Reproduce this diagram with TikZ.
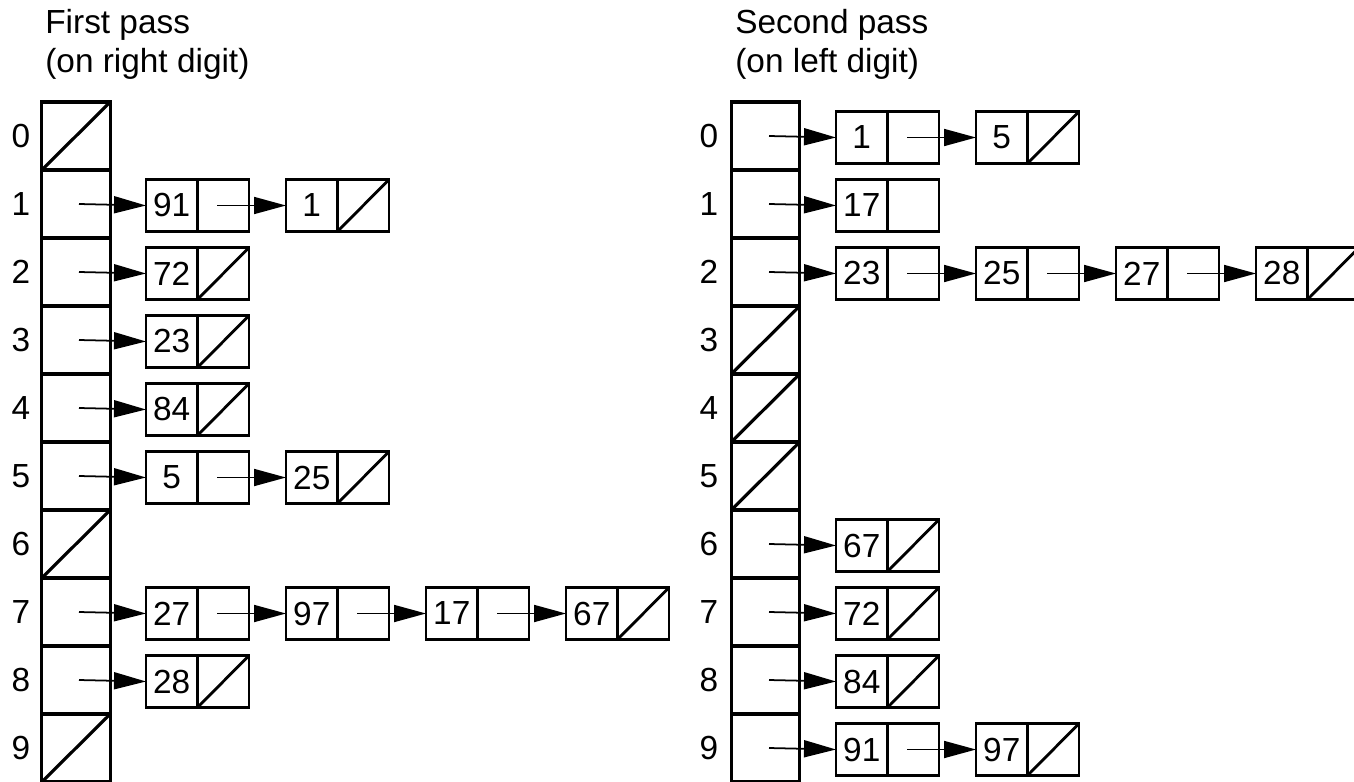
\documentclass[tikz,border=0pt]{standalone}
\usepackage{fontspec}
\setmainfont{Liberation Sans}
\usepackage{tikz}
\usetikzlibrary{arrows.meta,positioning}
\tikzset{
  bucket/.style={draw,line width=1.8pt,minimum width=1.37cm,minimum height=1.36cm,inner sep=0pt,outer sep=0pt},
  val/.style={draw,line width=1.6pt,minimum width=1.03cm,minimum height=1.04cm,inner sep=0pt,outer sep=0pt},
  ptr/.style={val,right=0pt of #1},
  nil/.style={path picture={\draw[line width=1.6pt] (path picture bounding box.south west)--(path picture bounding box.north east);}},
  lab/.style={inner sep=0pt},
  link/.style={-{Triangle[length=0.64cm,width=0.34cm]},line width=1pt},
}

\begin{document}
\begin{tikzpicture}[x=0.02cm,y=-0.02cm,font=\fontsize{19}{22.2}\selectfont]
  \useasboundingbox (0,0) rectangle (1354,781);
  % headings
  \node[lab,anchor=north west,align=left] (h1) at (45,9) {First pass\\(on right digit)};
  \node[lab,anchor=north west,align=left] (h2) at (735,9) {Second pass\\(on left digit)};
  % bucket arrays
  \foreach \i in {0,...,9} {
    \node[bucket] (f\i) at (76,{136+68*\i}) {};
    \node[lab] (fl\i) at (21,{136+68*\i}) {\i};
    \node[bucket] (s\i) at (765.5,{136+68*\i}) {};
    \node[lab] (sl\i) at (709,{136+68*\i}) {\i};
  }
  \foreach \i in {0,6,9} \draw[line width=1.8pt] (f\i.south west) -- (f\i.north east);
  \foreach \i in {3,4,5} \draw[line width=1.8pt] (s\i.south west) -- (s\i.north east);

  % first pass lists
  \node[val] (f1a) at (171.75,205.5) {91}; \node[ptr=f1a] (f1ap) {};
  \node[val] (f1b) at (311.75,205.5) {1}; \node[ptr=f1b,nil] (f1bp) {};
  \node[val] (f2a) at (171.75,273.5) {72}; \node[ptr=f2a,nil] (f2ap) {};
  \node[val] (f3a) at (171.75,341.5) {23}; \node[ptr=f3a,nil] (f3ap) {};
  \node[val] (f4a) at (171.75,409.5) {84}; \node[ptr=f4a,nil] (f4ap) {};
  \node[val] (f5a) at (171.75,477.5) {5}; \node[ptr=f5a] (f5ap) {};
  \node[val] (f5b) at (311.75,477.5) {25}; \node[ptr=f5b,nil] (f5bp) {};
  \node[val] (f7a) at (171.75,613.5) {27}; \node[ptr=f7a] (f7ap) {};
  \node[val] (f7b) at (311.75,613.5) {97}; \node[ptr=f7b] (f7bp) {};
  \node[val] (f7c) at (451.75,613.5) {17}; \node[ptr=f7c] (f7cp) {};
  \node[val] (f7d) at (591.75,613.5) {67}; \node[ptr=f7d,nil] (f7dp) {};
  \node[val] (f8a) at (171.75,681.5) {28}; \node[ptr=f8a,nil] (f8ap) {};

  \draw[link] ([xshift=0.06cm]f1.center) -- (f1a.west);
  \draw[link] ([xshift=-0.12cm]f1ap.center) -- (f1b.west);
  \draw[link] ([xshift=0.06cm]f2.center) -- (f2a.west);
  \draw[link] ([xshift=0.06cm]f3.center) -- (f3a.west);
  \draw[link] ([xshift=0.06cm]f4.center) -- (f4a.west);
  \draw[link] ([xshift=0.06cm]f5.center) -- (f5a.west);
  \draw[link] ([xshift=-0.12cm]f5ap.center) -- (f5b.west);
  \draw[link] ([xshift=0.06cm]f7.center) -- (f7a.west);
  \draw[link] ([xshift=-0.12cm]f7ap.center) -- (f7b.west);
  \draw[link] ([xshift=-0.12cm]f7bp.center) -- (f7c.west);
  \draw[link] ([xshift=-0.12cm]f7cp.center) -- (f7d.west);
  \draw[link] ([xshift=0.06cm]f8.center) -- (f8a.west);

  % second pass lists
  \node[val] (s0a) at (861.75,137.5) {1}; \node[ptr=s0a] (s0ap) {};
  \node[val] (s0b) at (1001.75,137.5) {5}; \node[ptr=s0b,nil] (s0bp) {};
  \node[val] (s1a) at (861.75,205.5) {17}; \node[ptr=s1a] (s1ap) {};
  \node[val] (s2a) at (861.75,273.5) {23}; \node[ptr=s2a] (s2ap) {};
  \node[val] (s2b) at (1001.75,273.5) {25}; \node[ptr=s2b] (s2bp) {};
  \node[val] (s2c) at (1141.75,273.5) {27}; \node[ptr=s2c] (s2cp) {};
  \node[val] (s2d) at (1281.75,273.5) {28}; \node[ptr=s2d,nil] (s2dp) {};
  \node[val] (s6a) at (861.75,545.5) {67}; \node[ptr=s6a,nil] (s6ap) {};
  \node[val] (s7a) at (861.75,613.5) {72}; \node[ptr=s7a,nil] (s7ap) {};
  \node[val] (s8a) at (861.75,681.5) {84}; \node[ptr=s8a,nil] (s8ap) {};
  \node[val] (s9a) at (861.75,749.5) {91}; \node[ptr=s9a] (s9ap) {};
  \node[val] (s9b) at (1001.75,749.5) {97}; \node[ptr=s9b,nil] (s9bp) {};

  \draw[link] ([xshift=0.07cm]s0.center) -- (s0a.west);
  \draw[link] ([xshift=-0.12cm]s0ap.center) -- (s0b.west);
  \draw[link] ([xshift=0.07cm]s1.center) -- (s1a.west);
  \draw[link] ([xshift=0.07cm]s2.center) -- (s2a.west);
  \draw[link] ([xshift=-0.12cm]s2ap.center) -- (s2b.west);
  \draw[link] ([xshift=-0.12cm]s2bp.center) -- (s2c.west);
  \draw[link] ([xshift=-0.12cm]s2cp.center) -- (s2d.west);
  \draw[link] ([xshift=0.07cm]s6.center) -- (s6a.west);
  \draw[link] ([xshift=0.07cm]s7.center) -- (s7a.west);
  \draw[link] ([xshift=0.07cm]s8.center) -- (s8a.west);
  \draw[link] ([xshift=0.07cm]s9.center) -- (s9a.west);
  \draw[link] ([xshift=-0.12cm]s9ap.center) -- (s9b.west);
\end{tikzpicture}
\end{document}
